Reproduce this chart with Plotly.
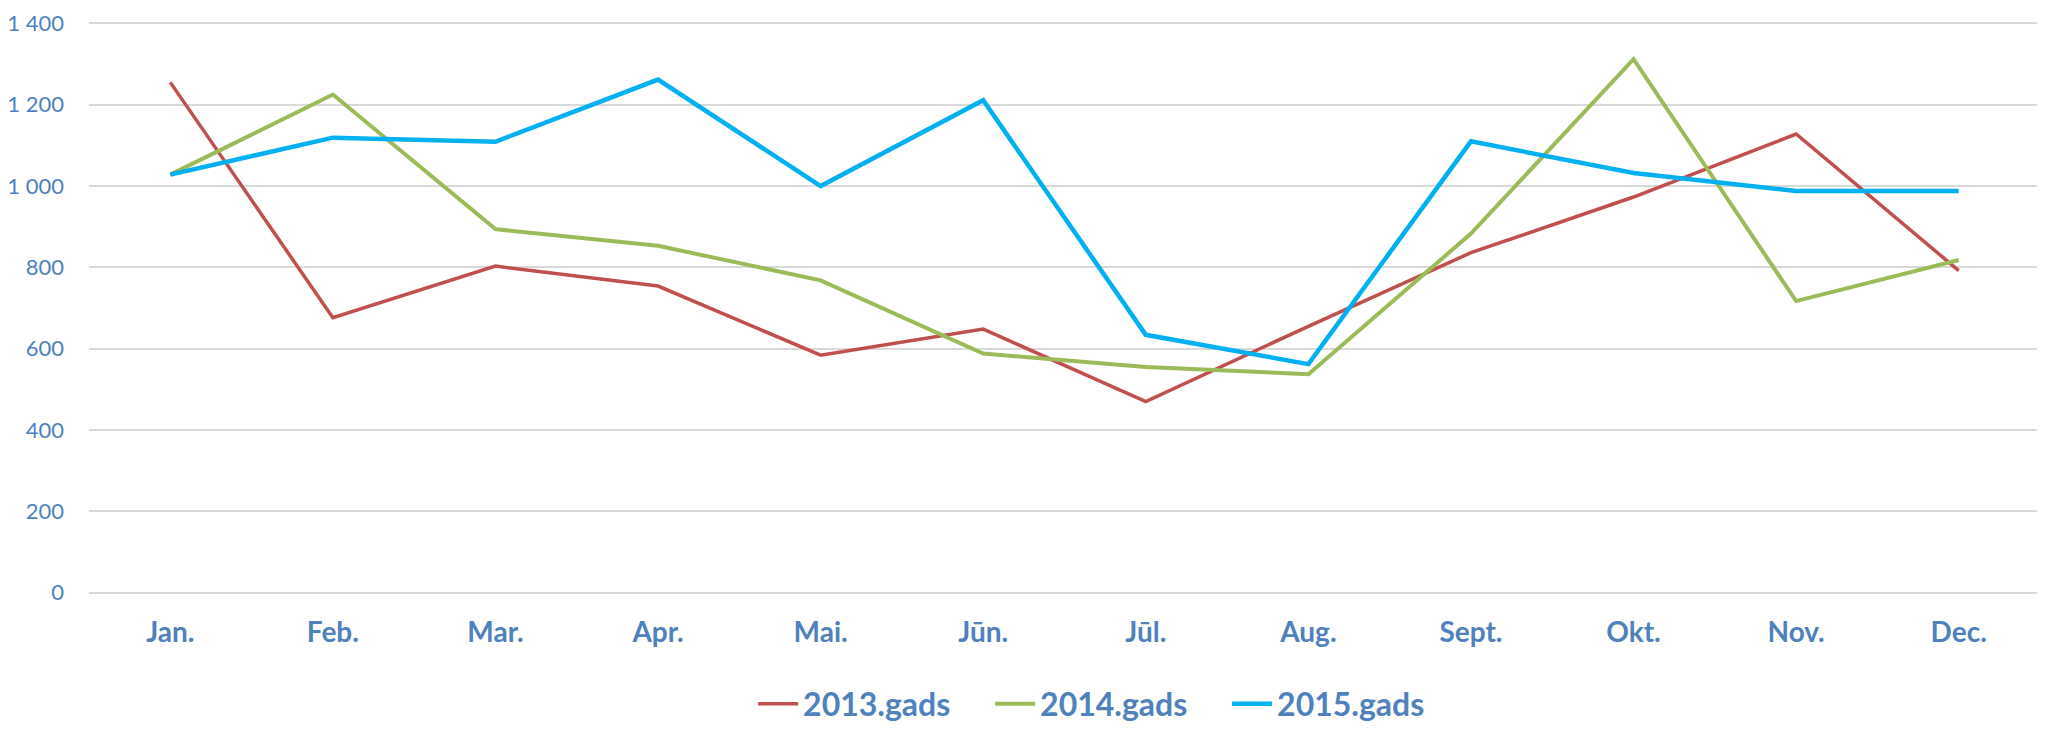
import plotly.graph_objects as go

months = ["Jan.", "Feb.", "Mar.", "Apr.", "Mai.", "Jūn.", "Jūl.", "Aug.", "Sept.", "Okt.", "Nov.", "Dec."]
s2013 = [1255, 676, 803, 754, 584, 648, 470, 655, 836, 973, 1128, 792]
s2014 = [1028, 1225, 894, 853, 768, 588, 555, 537, 883, 1312, 717, 818]
s2015 = [1028, 1119, 1109, 1262, 1000, 1211, 634, 562, 1110, 1032, 988, 988]
series_names = ["2013.gads", "2014.gads", "2015.gads"]
colors = ["#C0504D", "#9BBB59", "#00B0F0"]
widths = [3.5, 4, 4.5]
ytick_vals = [0, 200, 400, 600, 800, 1000, 1200, 1400]
ytick_text = ["0", "200", "400", "600", "800", "1 000", "1 200", "1 400"]

label_color = "#4F81BD"
fig = go.Figure()
for name, vals, c, w in zip(series_names, [s2013, s2014, s2015], colors, widths):
    fig.add_trace(go.Scatter(x=months, y=vals, name=name, mode="lines",
                             line=dict(color=c, width=w)))

fig.update_layout(
    width=2037, height=723,
    margin=dict(l=81, r=5, t=13, b=136, autoexpand=False),
    paper_bgcolor="white", plot_bgcolor="white",
    font=dict(family="Lato, Open Sans, sans-serif", color=label_color),
    showlegend=True,
    legend=dict(orientation="h", x=0.5226, xanchor="center", y=-0.19, yanchor="middle",
                font=dict(size=32, color=label_color, family="Lato, sans-serif", weight="bold"),
                itemwidth=40, tracegroupgap=0, entrywidth=182, entrywidthmode="pixels"),
    xaxis=dict(type="category", range=[-0.5, 11.5], showgrid=False, showline=False,
               zeroline=False, ticks="", ticklabelstandoff=18,
               tickfont=dict(size=28, color=label_color, family="Lato, sans-serif", weight="bold")),
    yaxis=dict(range=[-6, 1406], tickvals=ytick_vals, ticktext=ytick_text,
               showgrid=True, gridcolor="#D9D9D9", gridwidth=1.5, zeroline=False,
               showline=False, ticks="", ticklabelstandoff=24,
               tickfont=dict(size=22, color=label_color, family="Lato, sans-serif")),
)
fig.write_html("out.html")
